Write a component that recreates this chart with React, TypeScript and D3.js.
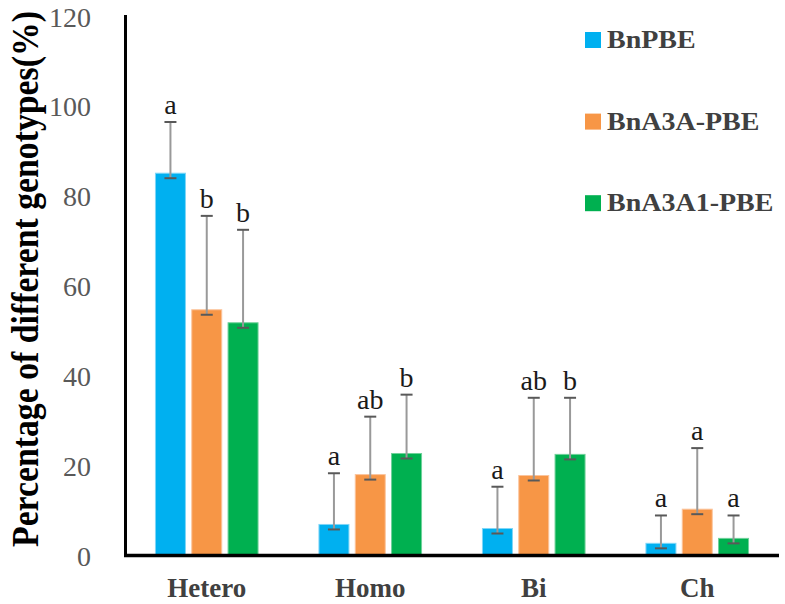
import React from "react";
import * as d3 from "d3";

const categories = ["Hetero", "Homo", "Bi", "Ch"];
const seriesNames = ["BnPBE", "BnA3A-PBE", "BnA3A1-PBE"];
const seriesColors = ["#00B0F0", "#F79646", "#00B050"];
const seriesStroke = ["#7FD6F7", "#FBC49C", "#6FD19A"];

const valuesBnPBE = [85.0, 6.8, 5.9, 2.6];
const valuesBnA3A = [54.6, 17.9, 17.7, 10.2];
const valuesBnA3A1 = [51.7, 22.6, 22.4, 3.7];

const errBnPBE = [11.4, 11.4, 9.3, 6.2];
const errBnA3A = [20.9, 12.9, 17.3, 13.6];
const errBnA3A1 = [20.7, 13.1, 12.6, 5.1];

const lettersBnPBE = ["a", "a", "a", "a"];
const lettersBnA3A = ["b", "ab", "ab", "a"];
const lettersBnA3A1 = ["b", "b", "b", "a"];

const yTicks = [0, 20, 40, 60, 80, 100, 120];
const yTitle = "Percentage of different genotypes(%)";

const allValues = [valuesBnPBE, valuesBnA3A, valuesBnA3A1];
const allErr = [errBnPBE, errBnA3A, errBnA3A1];
const allLetters = [lettersBnPBE, lettersBnA3A, lettersBnA3A1];

const W = 785;
const H = 604;
const serif = '"Liberation Serif", "Times New Roman", "DejaVu Serif", serif';

export default function App() {
  const y = d3.scaleLinear().domain([0, 120]).range([555, 16]);
  const x0 = d3.scaleBand<string>().domain(categories).range([125, 779]).padding(0);
  const x1 = d3
    .scaleBand<string>()
    .domain(seriesNames)
    .range([-51.3, 51.3])
    .paddingInner(0.174)
    .paddingOuter(0);
  const bw = x1.bandwidth();

  return (
    <svg
      width={W}
      height={H}
      style={{ position: "absolute", left: 0, top: 0, background: "#fff", fontFamily: serif }}
    >
      <rect x={0} y={0} width={W} height={H} fill="#fff" />

      {/* y tick labels */}
      {yTicks.map((t) => (
        <text
          key={t}
          x={91}
          y={y(t) + 1}
          textAnchor="end"
          dominantBaseline="central"
          fontSize={28}
          fill="#595959"
          style={{ fontFamily: serif }}
        >
          {t}
        </text>
      ))}

      {/* y title */}
      <text
        transform={`translate(38,279) rotate(-90) scale(1,1.18)`}
        textAnchor="middle"
        fontSize={33}
        fontWeight="bold"
        fill="#000"
        textLength={536}
        lengthAdjust="spacingAndGlyphs"
        style={{ fontFamily: serif }}
      >
        {yTitle}
      </text>

      {/* bars */}
      {categories.map((c, ci) => {
        const cx = (x0(c) as number) + x0.bandwidth() / 2;
        return (
          <g key={c}>
            {seriesNames.map((s, si) => {
              const v = allValues[si][ci];
              const e = allErr[si][ci];
              const bx = cx + (x1(s) as number);
              const mid = bx + bw / 2;
              const yTop = y(v);
              const yErr = y(v + e);
              return (
                <g key={s}>
                  <rect
                    x={bx}
                    y={yTop}
                    width={bw}
                    height={y(0) - yTop}
                    fill={seriesColors[si]}
                    stroke={seriesStroke[si]}
                    strokeWidth={1}
                  />
                  <line x1={mid} x2={mid} y1={yTop + 5} y2={yErr} stroke="#999999" strokeWidth={2} />
                  <line x1={mid - 6} x2={mid + 6} y1={yErr} y2={yErr} stroke="#595959" strokeWidth={2} />
                  <line x1={mid - 6} x2={mid + 6} y1={yTop + 5} y2={yTop + 5} stroke="#595959" strokeWidth={2} />
                  <text
                    x={mid}
                    y={yErr - 8}
                    textAnchor="middle"
                    fontSize={28}
                    fill="#1a1a1a"
                    style={{ fontFamily: serif }}
                  >
                    {allLetters[si][ci]}
                  </text>
                </g>
              );
            })}
            <text
              x={cx}
              y={597}
              textAnchor="middle"
              fontSize={27}
              fontWeight="bold"
              fill="#404040"
              style={{ fontFamily: serif }}
            >
              {c}
            </text>
          </g>
        );
      })}

      {/* axes */}
      <line x1={125.5} x2={125.5} y1={15} y2={556.5} stroke="#000" strokeWidth={3} />
      <line x1={124} x2={779} y1={555.5} y2={555.5} stroke="#000" strokeWidth={3.3} />

      {/* legend */}
      {seriesNames.map((s, i) => {
        const ly = 40 + i * 81.6;
        return (
          <g key={s}>
            <rect x={585} y={ly - 8} width={16} height={16} fill={seriesColors[i]} />
            <text
              x={607}
              y={ly + 8}
              fontSize={28}
              fontWeight="bold"
              fill="#404040"
              style={{ fontFamily: serif }}
              transform={`translate(0,${ly + 8}) scale(1,0.92) translate(0,${-(ly + 8)})`}
            >
              {s}
            </text>
          </g>
        );
      })}
    </svg>
  );
}
